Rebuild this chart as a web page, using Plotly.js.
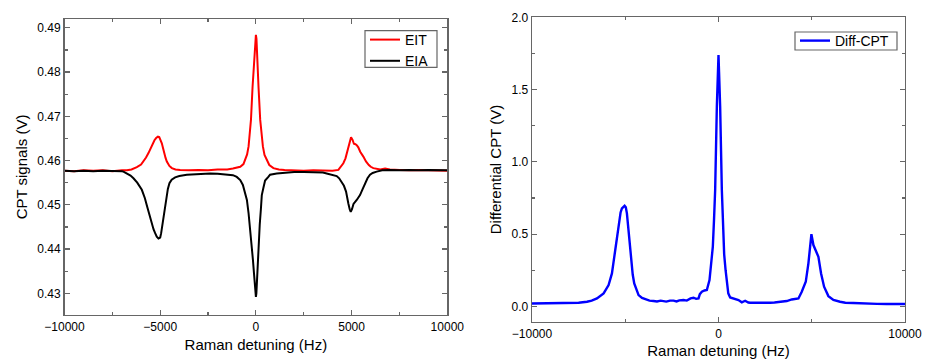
<!DOCTYPE html>
<html>
<head>
<meta charset="utf-8">
<script src="https://cdn.plot.ly/plotly-3.0.1.min.js"></script>
<style>html,body{margin:0;padding:0;background:#fff;}#chart{width:925px;height:363px;}</style>
</head>
<body>
<div id="chart"></div>
<script>
// EIT (red) trace, left panel
const eitX = [-10000,-9500,-9000,-8500,-8000,-7500,-7000,-6740,-6500,-6220,-6000,-5875,-5740,-5613,-5500,-5385,-5300,-5212,-5120,-5050,-4980,-4915,-4850,-4794,-4720,-4653,-4520,-4392,-4200,-3958,-3500,-3000,-2500,-2000,-1500,-1200,-1000,-818,-650,-557,-460,-383,-320,-258,-174,-85,-30,0,30,52,136,225,300,365,450,574,700,915,1200,1500,2000,2500,3000,3500,4000,4308,4450,4569,4680,4778,4880,4971,5050,5120,5200,5268,5350,5450,5614,5750,5900,6000,6136,6300,6500,6750,7000,7500,8000,8500,9000,9500,10000];
const eitY = [0.4577,0.4576,0.4578,0.4577,0.4578,0.4576,0.4578,0.4578,0.4580,0.4585,0.4591,0.4598,0.4607,0.4617,0.4628,0.4639,0.4646,0.4651,0.4654,0.4653,0.4647,0.4639,0.4628,0.4617,0.4606,0.4598,0.4588,0.4583,0.4580,0.4579,0.4578,0.4579,0.4578,0.4580,0.4580,0.4582,0.4585,0.4586,0.4592,0.4601,0.4614,0.4632,0.4658,0.4692,0.4767,0.4843,0.4880,0.4884,0.4875,0.4843,0.4767,0.4692,0.4655,0.4632,0.4613,0.4601,0.4590,0.4583,0.4580,0.4579,0.4578,0.4577,0.4578,0.4577,0.4577,0.4579,0.4586,0.4594,0.4605,0.4620,0.4640,0.4653,0.4647,0.4638,0.4637,0.4635,0.4630,0.4620,0.4609,0.4598,0.4590,0.4586,0.4583,0.4581,0.4580,0.4582,0.4580,0.4579,0.4578,0.4579,0.4578,0.4578,0.4577];
// EIA (black) trace, left panel
const eiaX = [-10000,-9500,-9000,-8500,-8000,-7500,-7000,-6919,-6700,-6550,-6397,-6200,-5960,-5800,-5683,-5560,-5437,-5350,-5264,-5180,-5091,-5000,-4950,-4890,-4830,-4760,-4690,-4600,-4517,-4400,-4219,-4000,-3609,-3000,-2392,-2000,-1521,-1200,-1000,-818,-680,-557,-470,-383,-320,-258,-213,-154,-100,-50,0,25,52,90,136,200,260,308,390,480,650,741,1090,1500,2000,2500,3000,3500,3700,4000,4222,4350,4483,4600,4710,4780,4830,4900,4955,5020,5100,5268,5440,5570,5700,5830,5962,6100,6310,6600,7000,7500,8000,8500,9000,9500,10000];
const eiaY = [0.4577,0.4576,0.4577,0.4576,0.4577,0.4577,0.4576,0.4575,0.4570,0.4566,0.4560,0.4550,0.4534,0.4515,0.4496,0.4476,0.4458,0.4445,0.4436,0.4428,0.4424,0.4426,0.4436,0.4454,0.4473,0.4496,0.4518,0.4536,0.4549,0.4557,0.4562,0.4565,0.4568,0.4570,0.4571,0.4570,0.4568,0.4567,0.4563,0.4556,0.4545,0.4526,0.4511,0.4481,0.4455,0.4428,0.4410,0.4375,0.4345,0.4315,0.4292,0.4300,0.4330,0.4370,0.4405,0.4455,0.4490,0.4522,0.4538,0.4555,0.4563,0.4568,0.4571,0.4573,0.4574,0.4574,0.4574,0.4573,0.4571,0.4568,0.4565,0.4560,0.4552,0.4543,0.4530,0.4518,0.4503,0.4490,0.4484,0.4490,0.4502,0.4511,0.4522,0.4535,0.4549,0.4560,0.4568,0.4572,0.4575,0.4578,0.4579,0.4578,0.4579,0.4578,0.4579,0.4578,0.4578];
// Diff-CPT (blue) trace, right panel
const diffX = [-10000,-9555,-9000,-8500,-7948,-7500,-7053,-6800,-6517,-6300,-6161,-5893,-5714,-5536,-5357,-5250,-5179,-5100,-5036,-4970,-4911,-4850,-4786,-4679,-4600,-4518,-4400,-4286,-4100,-3929,-3700,-3482,-3300,-3100,-2947,-2800,-2600,-2411,-2250,-2100,-1875,-1700,-1500,-1339,-1200,-1071,-1000,-893,-750,-625,-482,-380,-304,-240,-179,-89,-30,0,30,89,179,250,304,380,446,525,625,804,893,1071,1250,1429,1600,1696,2000,2300,2600,2768,3000,3300,3661,3929,4100,4286,4464,4679,4821,4911,4982,5089,5214,5357,5500,5661,5893,6161,6518,6800,7232,7600,8000,8500,9018,9500,10000];
const diffY = [0.02,0.02,0.021,0.02,0.021,0.025,0.032,0.040,0.055,0.075,0.09,0.147,0.228,0.39,0.574,0.65,0.678,0.69,0.696,0.685,0.644,0.56,0.459,0.298,0.22,0.159,0.11,0.078,0.058,0.048,0.04,0.037,0.034,0.04,0.037,0.033,0.04,0.04,0.034,0.042,0.044,0.04,0.055,0.06,0.052,0.055,0.085,0.101,0.11,0.113,0.182,0.30,0.413,0.60,0.805,1.381,1.70,1.739,1.62,1.381,0.805,0.45,0.36,0.25,0.15,0.09,0.062,0.055,0.05,0.044,0.028,0.039,0.027,0.025,0.026,0.024,0.027,0.025,0.027,0.03,0.037,0.048,0.05,0.055,0.101,0.17,0.298,0.436,0.50,0.424,0.385,0.343,0.228,0.136,0.071,0.044,0.032,0.025,0.023,0.02,0.018,0.017,0.016,0.016,0.016];

const FONT = 'Arial, "Liberation Sans", sans-serif';
const frame = '#666666';

function axisBase(extra) {
  return Object.assign({
    showline: true, linecolor: frame, linewidth: 1.4, mirror: 'ticks',
    ticks: 'inside', ticklen: 5, tickwidth: 1.2, tickcolor: frame,
    showgrid: false, zeroline: false, automargin: false,
    tickfont: {family: FONT, size: 12, color: '#000'}
  }, extra);
}

const traces = [
  {x: eitX, y: eitY, type: 'scatter', mode: 'lines', name: 'EIT',
   line: {color: '#ff0000', width: 2}, xaxis: 'x', yaxis: 'y', legend: 'legend'},
  {x: eiaX, y: eiaY, type: 'scatter', mode: 'lines', name: 'EIA',
   line: {color: '#000000', width: 2}, xaxis: 'x', yaxis: 'y', legend: 'legend'},
  {x: diffX, y: diffY, type: 'scatter', mode: 'lines', name: 'Diff-CPT',
   line: {color: '#0000ff', width: 2.4}, xaxis: 'x2', yaxis: 'y2', legend: 'legend2'}
];

const W = 925, H = 363;
const TITLEFONT = {family: FONT, size: 15, color: '#000'};
const layout = {
  width: W, height: H,
  margin: {l: 0, r: 0, t: 0, b: 0},
  paper_bgcolor: '#fff', plot_bgcolor: '#fff',
  font: {family: FONT, color: '#000'},
  showlegend: true,
  xaxis: axisBase({
    domain: [64.5 / W, 447.3 / W], anchor: 'y',
    range: [-10000, 10000], tickmode: 'linear', tick0: -10000, dtick: 5000, tickformat: 'd',
    minor: {dtick: 2500, ticklen: 3, tickcolor: frame, ticks: 'inside'},
    title: {text: 'Raman detuning (Hz)', font: TITLEFONT, standoff: 6}
  }),
  yaxis: axisBase({
    domain: [(H - 315) / H, (H - 19) / H], anchor: 'x',
    range: [0.4251, 0.492], tickmode: 'linear', tick0: 0.43, dtick: 0.01, tickformat: '.2f',
    minor: {dtick: 0.005, ticklen: 3, tickcolor: frame, ticks: 'inside'},
    title: {text: 'CPT signals (V)', font: TITLEFONT, standoff: 6}
  }),
  xaxis2: axisBase({
    domain: [532 / W, 905 / W], anchor: 'y2',
    range: [-10000, 10000], tickmode: 'linear', tick0: -10000, dtick: 10000, tickformat: 'd',
    minor: {dtick: 5000, ticklen: 3, tickcolor: frame, ticks: 'inside'},
    title: {text: 'Raman detuning (Hz)', font: TITLEFONT, standoff: 6}
  }),
  yaxis2: axisBase({
    domain: [(H - 321.7) / H, (H - 17.3) / H], anchor: 'x2',
    range: [-0.106, 2.0], tickmode: 'linear', tick0: 0, dtick: 0.5, tickformat: '.1f',
    minor: {dtick: 0.25, ticklen: 3, tickcolor: frame, ticks: 'inside'},
    title: {text: 'Differential CPT (V)', font: TITLEFONT, standoff: 6}
  }),
  legend: {
    x: 365 / W, y: 1 - 24 / H, xanchor: 'left', yanchor: 'top',
    borderwidth: 0, bgcolor: 'rgba(0,0,0,0)',
    font: {family: FONT, size: 14, color: '#000'}, tracegroupgap: 0
  },
  legend2: {
    x: 795 / W, y: 1 - 25 / H, xanchor: 'left', yanchor: 'top',
    borderwidth: 0, bgcolor: 'rgba(0,0,0,0)',
    font: {family: FONT, size: 14, color: '#000'}
  },
  shapes: [
    {type: 'rect', xref: 'paper', yref: 'paper', layer: 'above',
     x0: 365 / W, x1: 437 / W, y0: 1 - 30.7 / H, y1: 1 - 67.3 / H,
     line: {color: '#666', width: 1.2}, fillcolor: 'rgba(0,0,0,0)'},
    {type: 'rect', xref: 'paper', yref: 'paper', layer: 'above',
     x0: 795 / W, x1: 897 / W, y0: 1 - 32 / H, y1: 1 - 50 / H,
     line: {color: '#666', width: 1.2}, fillcolor: 'rgba(0,0,0,0)'}
  ]
};

Plotly.newPlot('chart', traces, layout, {staticPlot: true, displayModeBar: false});
</script>
</body>
</html>
